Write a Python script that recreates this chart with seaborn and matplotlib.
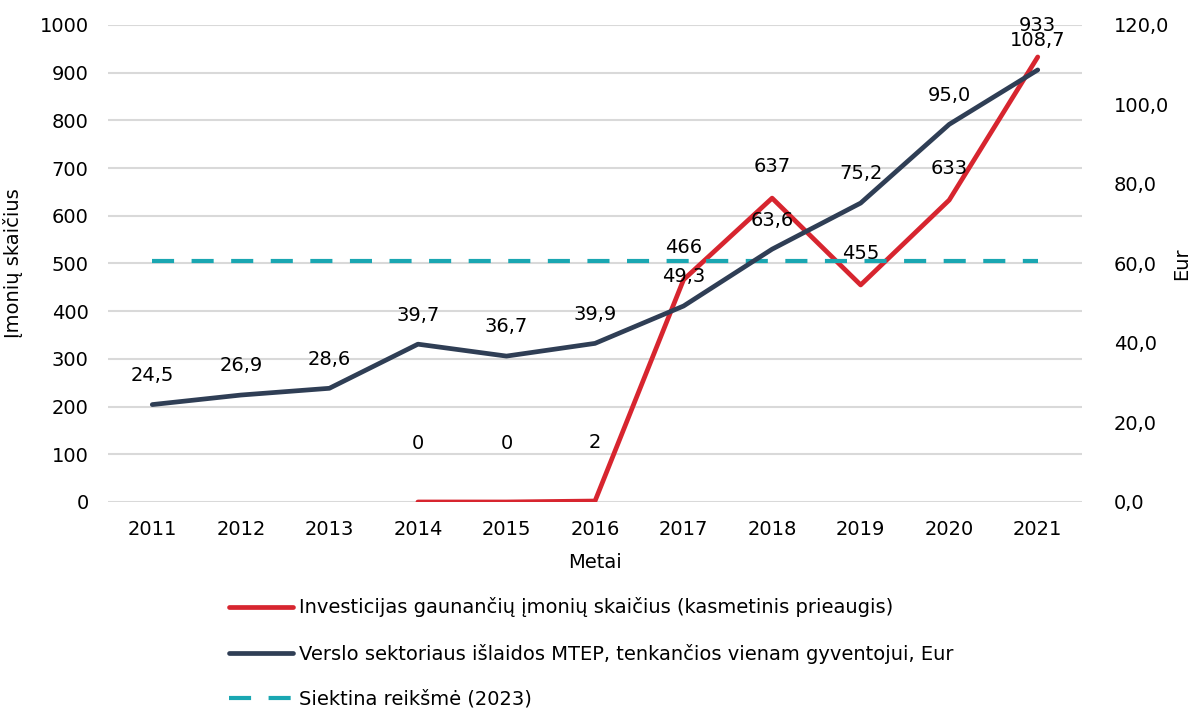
import pandas as pd
import seaborn as sns
import matplotlib.pyplot as plt

metai = [2011, 2012, 2013, 2014, 2015, 2016, 2017, 2018, 2019, 2020, 2021]
imones_metai = [2014, 2015, 2016, 2017, 2018, 2019, 2020, 2021]
imones = [0, 0, 2, 466, 637, 455, 633, 933]
islaidos = [24.5, 26.9, 28.6, 39.7, 36.7, 39.9, 49.3, 63.6, 75.2, 95.0, 108.7]
siektina = 60.6

raud = '#D7252F'
melyn = '#2F3E55'
turk = '#1AA7B2'

sns.set_style('white')
plt.rcParams['font.family'] = ['DejaVu Sans']
plt.rcParams['text.color'] = 'black'
plt.rcParams['axes.labelcolor'] = 'black'
plt.rcParams['xtick.color'] = 'black'
plt.rcParams['ytick.color'] = 'black'
fs = 14

df_imon = pd.DataFrame({'metai': imones_metai, 'imones': imones})
df_isl = pd.DataFrame({'metai': metai, 'islaidos': islaidos, 'siektina': [siektina] * len(metai)})

fig = plt.figure(figsize=(11.96, 7.08), dpi=100)
ax = fig.add_axes([0.0903, 0.291, 0.8144, 0.6737])
ax2 = ax.twinx()

# raudona linija apacioje, tikslas ir islaidos virs jos
sns.lineplot(x='metai', y='imones', data=df_imon, ax=ax, color=raud, lw=3.4,
             label='Investicijas gaunančių įmonių skaičius (kasmetinis prieaugis)', legend=False)
sns.lineplot(x='metai', y='siektina', data=df_isl, ax=ax2, color=turk, lw=3.0,
             linestyle=(0, (5.3, 4.2)), label='Siektina reikšmė (2023)', legend=False)
sns.lineplot(x='metai', y='islaidos', data=df_isl, ax=ax2, color=melyn, lw=3.4,
             label='Verslo sektoriaus išlaidos MTEP, tenkančios vienam gyventojui, Eur', legend=False)

ax.set_ylim(0, 1000)
ax.set_yticks(range(0, 1001, 100))
ax2.set_ylim(0, 120)
ax2.set_yticks(range(0, 121, 20))
ax2.set_yticklabels([f'{v:.1f}'.replace('.', ',') for v in range(0, 121, 20)])
ax.set_xlim(2010.5, 2021.5)
ax.set_xticks(metai)
ax.grid(axis='y', color='#D9D9D9', lw=1.5)
ax2.grid(False)
for a in (ax, ax2):
    for s in a.spines.values():
        s.set_visible(False)
    a.tick_params(length=0, labelsize=fs)
ax.tick_params(axis='y', pad=14)
ax.tick_params(axis='x', pad=13)
ax2.tick_params(axis='y', pad=23)

ax.set_xlabel('Metai', fontsize=fs, labelpad=10)
ax.set_ylabel('Įmonių skaičius', fontsize=fs, labelpad=12)
ax2.set_ylabel('Eur', fontsize=fs, labelpad=2)

for x, v in zip(metai, islaidos):
    ax2.annotate(f'{v:.1f}'.replace('.', ','), (x, v), xytext=(0, 21), textcoords='offset points',
                 ha='center', va='center', fontsize=fs)
for x, v in zip(imones_metai, imones):
    ax2.annotate(str(v), (x, v), xycoords=ax.transData, xytext=(0, 42 if v < 10 else 23),
                 textcoords='offset points', ha='center', va='center', fontsize=fs)

h1, l1 = ax.get_legend_handles_labels()
h2, l2 = ax2.get_legend_handles_labels()
fig.legend(h1 + h2[::-1], l1 + l2[::-1], loc='upper left', bbox_to_anchor=(0.183, 0.17),
           frameon=False, fontsize=fs, handlelength=3.3, handletextpad=0.3, labelspacing=1.35,
           borderpad=0)

plt.savefig('out.png', dpi=100)
